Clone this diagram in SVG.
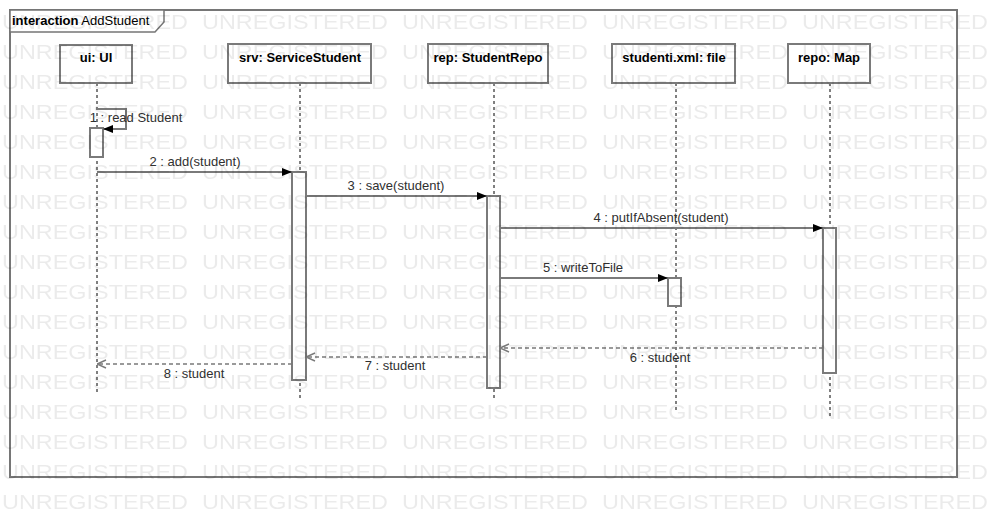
<svg xmlns="http://www.w3.org/2000/svg" width="997" height="517" viewBox="0 0 997 517">
  <style>
    .frame { fill: none; stroke: #767676; stroke-width: 2; }
    .head { fill: #ffffff; stroke: #767676; stroke-width: 1.5; }
    .box { fill: #ffffff; stroke: #7a7a7a; stroke-width: 2; }
    .act { fill: #ffffff; stroke: #7a7a7a; stroke-width: 2; }
    .life { stroke: #000000; stroke-width: 1; stroke-dasharray: 3 3; fill: none; }
    .msg { stroke: #7a7a7a; stroke-width: 2; fill: none; }
    .ret { stroke: #7a7a7a; stroke-width: 1.5; stroke-dasharray: 4 3; fill: none; }
    .title { font-family: "Liberation Sans", Arial, sans-serif; font-size: 13px; font-weight: bold; fill: #000000; text-anchor: middle; }
    .lbl { font-family: "Liberation Sans", Arial, sans-serif; font-size: 13px; fill: #303030; text-anchor: middle; }
    .wm { font-family: "Liberation Sans", Arial, sans-serif; font-size: 20px; fill: #000000; }
  </style>
  <defs>
    <marker id="filled" viewBox="0 0 10 8" refX="10" refY="4" markerWidth="10" markerHeight="8" markerUnits="userSpaceOnUse" orient="auto">
      <path d="M0,0 L10,4 L0,8 Z" fill="#000000"/>
    </marker>
    <marker id="open" viewBox="0 0 10 10" refX="10" refY="5" markerWidth="10" markerHeight="10" markerUnits="userSpaceOnUse" orient="auto">
      <path d="M1,1 L10,5 L1,9" fill="none" stroke="#7a7a7a" stroke-width="1.5"/>
    </marker>
    <pattern id="watermark" x="2" y="0" width="200" height="30" patternUnits="userSpaceOnUse">
      <text class="wm" x="0" y="29" textLength="186" lengthAdjust="spacingAndGlyphs">UNREGISTERED</text>
    </pattern>
  </defs>

  <rect x="0" y="0" width="997" height="517" fill="#ffffff"/>

  <!-- interaction frame -->
  <g id="frame">
    <rect class="frame" x="10" y="10" width="947" height="467"/>
    <path class="head" d="M10,10 H164 V22 L155,32 H10 Z"/>
    <text x="12" y="25" font-family="Liberation Sans, Arial, sans-serif" font-size="13" fill="#000000"><tspan font-weight="bold">interaction</tspan> AddStudent</text>
  </g>

  <!-- lifelines -->
  <g id="ui">
    <line class="life" x1="97" y1="83" x2="97" y2="393"/>
    <rect class="box" x="60" y="45" width="72" height="38"/>
    <text class="title" x="96" y="62">ui: UI</text>
  </g>
  <g id="srv">
    <line class="life" x1="300" y1="83" x2="300" y2="400"/>
    <rect class="box" x="228" y="44" width="143" height="39"/>
    <text class="title" x="300" y="62">srv: ServiceStudent</text>
  </g>
  <g id="rep">
    <line class="life" x1="494" y1="83" x2="494" y2="401"/>
    <rect class="box" x="428" y="44" width="120" height="39"/>
    <text class="title" x="488" y="62">rep: StudentRepo</text>
  </g>
  <g id="studenti">
    <line class="life" x1="676" y1="83" x2="676" y2="412"/>
    <rect class="box" x="612" y="44" width="123" height="39"/>
    <text class="title" x="674" y="62">studenti.xml: file</text>
  </g>
  <g id="repo">
    <line class="life" x1="830" y1="83" x2="830" y2="418"/>
    <rect class="box" x="788" y="44" width="82" height="39"/>
    <text class="title" x="829" y="62">repo: Map</text>
  </g>

  <!-- activation bars -->
  <g id="activations">
    <rect class="act" x="90" y="128" width="13" height="29"/>
    <rect class="act" x="292" y="172" width="14" height="208"/>
    <rect class="act" x="487" y="196" width="13" height="192"/>
    <rect class="act" x="668" y="278" width="13" height="28"/>
    <rect class="act" x="823" y="228" width="13" height="145"/>
  </g>

  <!-- messages -->
  <g id="connectors">
    <path class="msg" d="M97,109 H126 V129 H103" marker-end="url(#filled)"/>
    <line class="msg" x1="97" y1="172" x2="292" y2="172" marker-end="url(#filled)"/>
    <line class="msg" x1="306" y1="196" x2="487" y2="196" marker-end="url(#filled)"/>
    <line class="msg" x1="500" y1="228" x2="823" y2="228" marker-end="url(#filled)"/>
    <line class="msg" x1="500" y1="278" x2="668" y2="278" marker-end="url(#filled)"/>
    <line class="ret" x1="823" y1="348" x2="500" y2="348" marker-end="url(#open)"/>
    <line class="ret" x1="487" y1="357" x2="306" y2="357" marker-end="url(#open)"/>
    <line class="ret" x1="292" y1="364" x2="97" y2="364" marker-end="url(#open)"/>
  </g>

  <g id="labels">
    <text class="lbl" x="136" y="122">1 : read Student</text>
    <text class="lbl" x="195" y="166">2 : add(student)</text>
    <text class="lbl" x="396" y="190">3 : save(student)</text>
    <text class="lbl" x="661" y="222">4 : putIfAbsent(student)</text>
    <text class="lbl" x="583" y="272">5 : writeToFile</text>
    <text class="lbl" x="660" y="362">6 : student</text>
    <text class="lbl" x="395" y="370">7 : student</text>
    <text class="lbl" x="194" y="378">8 : student</text>
  </g>

  <!-- tool watermark over the whole sheet -->
  <rect x="0" y="0" width="997" height="517" fill="url(#watermark)" opacity="0.08" pointer-events="none"/>
</svg>
